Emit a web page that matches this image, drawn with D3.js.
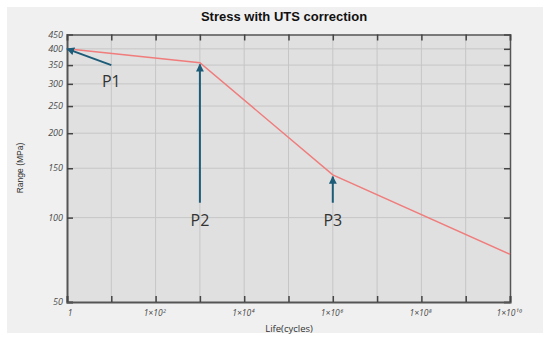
<!DOCTYPE html>
<html><head><meta charset="utf-8">
<script src="https://cdn.jsdelivr.net/npm/d3@7"></script>
<style>
html,body{margin:0;padding:0;background:#fff;}
svg{display:block;}
</style></head>
<body>
<svg id="chart" width="550" height="342"></svg>
<script>
// ---- data ----
const lifeCycles = [1, 1e3, 1e6, 1e10];
const stressRange = [400, 357, 142, 74];
const yTicks = [50, 100, 150, 200, 250, 300, 350, 400, 450];
const xTicks = [1, 1e1, 1e2, 1e3, 1e4, 1e5, 1e6, 1e7, 1e8, 1e9, 1e10];
const xTickLabels = ["1", "", "1×10²", "", "1×10⁴", "", "1×10⁶", "", "1×10⁸", "", "1×10¹⁰"];
const annotations = [
  {label: "P1", fromX: 10, fromY: 350, toX: 1, toY: 400, lx: 10, ly: 305},
  {label: "P2", fromX: 1e3, fromY: 113, toX: 1e3, toY: 352, lx: 1e3, ly: 98},
  {label: "P3", fromX: 1e6, fromY: 113, toX: 1e6, toY: 140, lx: 1e6, ly: 98}
];
const title = "Stress with UTS correction";

// ---- layout ----
const svg = d3.select("#chart");
const L = 67, R = 510, T = 34.5, B = 302;
const x = d3.scaleLog().domain([1, 1e10]).range([L, R]);
const y = d3.scaleLog().domain([50, 450]).range([B, T]);

// outer panel
svg.append("rect").attr("x", 7).attr("y", 7).attr("width", 536).attr("height", 326).attr("fill", "#f0f0f0");
// plot area
svg.append("rect").attr("x", L).attr("y", T).attr("width", R - L).attr("height", B - T).attr("fill", "#e0e0e0");

// gridlines
svg.append("g").selectAll("line").data(xTicks.slice(1, -1)).join("line")
  .attr("x1", d => x(d)).attr("x2", d => x(d)).attr("y1", T).attr("y2", B)
  .attr("stroke", "#c6c6c6").attr("stroke-width", 1);
svg.append("g").selectAll("line").data(yTicks.slice(1, -1)).join("line")
  .attr("x1", L).attr("x2", R).attr("y1", d => y(d)).attr("y2", d => y(d))
  .attr("stroke", "#c6c6c6").attr("stroke-width", 1);

// axes via d3 axis with inward ticks
const axisColor = "#555";
const gLeft = svg.append("g").attr("transform", `translate(${L},0)`)
  .call(d3.axisRight(y).tickValues(yTicks).tickSize(6).tickFormat(""));
const gRight = svg.append("g").attr("transform", `translate(${R},0)`)
  .call(d3.axisLeft(y).tickValues(yTicks).tickSize(6).tickFormat(""));
const gBottom = svg.append("g").attr("transform", `translate(0,${B})`)
  .call(d3.axisTop(x).tickValues(xTicks).tickSize(6).tickFormat(""));
const gTop = svg.append("g").attr("transform", `translate(0,${T})`)
  .call(d3.axisBottom(x).tickValues(xTicks).tickSize(6).tickFormat(""));
[gLeft, gRight, gBottom, gTop].forEach(g => {
  g.selectAll("path.domain").attr("stroke", axisColor).attr("stroke-width", 2);
  g.selectAll(".tick line").attr("stroke", "#444").attr("stroke-width", 1.5);
});
gRight.selectAll("path.domain").attr("stroke-width", 1.5);
gTop.selectAll("path.domain").attr("stroke-width", 1.5);

// tick labels
svg.append("g").selectAll("text").data(yTicks).join("text")
  .attr("x", L - 4).attr("y", d => y(d)).attr("dy", "0.35em")
  .attr("text-anchor", "end")
  .attr("font-family", "'Open Sans', sans-serif").attr("font-style", "italic")
  .attr("font-size", 9).attr("fill", "#4a4a4a")
  .text(d => d);
svg.append("g").selectAll("text").data(xTicks.map((d, i) => ({v: d, t: xTickLabels[i]})).filter(d => d.t)).join("text")
  .attr("x", d => x(d.v) + (d.v === 1 ? 3 : -1)).attr("y", B + 14)
  .attr("text-anchor", "middle")
  .attr("font-family", "'Open Sans', sans-serif").attr("font-style", "italic")
  .attr("font-size", 8.5).attr("fill", "#4a4a4a")
  .text(d => d.t);

// axis titles
svg.append("text").attr("x", 289).attr("y", 332)
  .attr("text-anchor", "middle").attr("font-family", "'Open Sans', sans-serif")
  .attr("font-size", 9.5).attr("fill", "#333").text("Life(cycles)");
svg.append("text").attr("transform", "translate(23,168) rotate(-90)")
  .attr("text-anchor", "middle").attr("font-family", "'Liberation Sans', Arial, sans-serif")
  .attr("font-size", 8.5).attr("fill", "#333").text("Range (MPa)");

// title
svg.append("text").attr("x", 284).attr("y", 21)
  .attr("text-anchor", "middle").attr("font-family", "'Liberation Sans', Arial, sans-serif")
  .attr("font-weight", "bold").attr("font-size", 13).attr("fill", "#111").text(title);

// data line
const line = d3.line().x((d, i) => x(lifeCycles[i])).y((d, i) => y(stressRange[i]));
svg.append("path").datum(stressRange).attr("d", line)
  .attr("fill", "none").attr("stroke", "#f07c7c").attr("stroke-width", 1.5);

// arrows
const arrowColor = "#1d5c78";
svg.append("defs").append("marker").attr("id", "ah")
  .attr("viewBox", "0 0 10 10").attr("refX", 9).attr("refY", 5)
  .attr("markerWidth", 4).attr("markerHeight", 4).attr("orient", "auto")
  .append("path").attr("d", "M0,0 L10,5 L0,10 z").attr("fill", arrowColor);
svg.append("g").selectAll("line").data(annotations).join("line")
  .attr("x1", d => x(d.fromX)).attr("y1", d => y(d.fromY))
  .attr("x2", d => x(d.toX)).attr("y2", d => y(d.toY))
  .attr("stroke", arrowColor).attr("stroke-width", 2).attr("marker-end", "url(#ah)");
svg.append("g").selectAll("text").data(annotations).join("text")
  .attr("x", d => x(d.lx)).attr("y", d => y(d.ly)).attr("dy", "0.35em")
  .attr("text-anchor", "middle").attr("font-family", "'Open Sans', sans-serif")
  .attr("font-size", 16).attr("fill", "#333").text(d => d.label);
</script>
</body></html>
